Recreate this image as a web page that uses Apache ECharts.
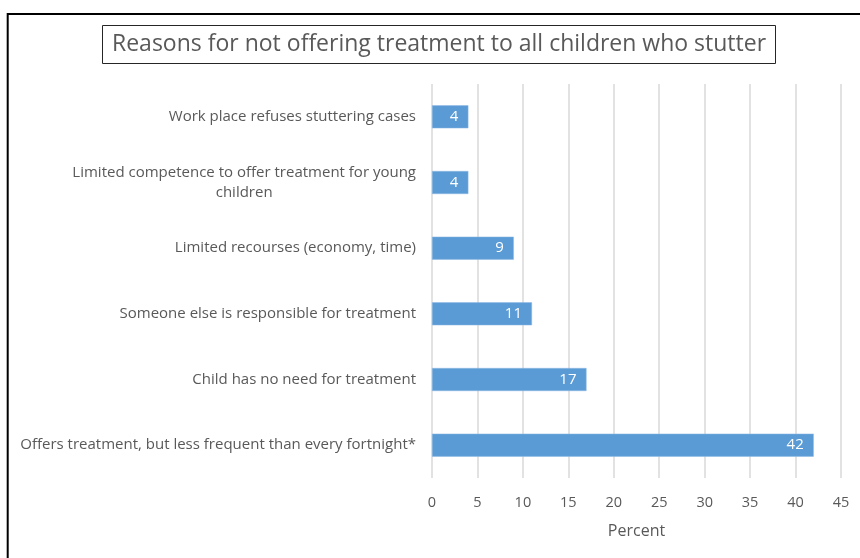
<!DOCTYPE html>
<html>
<head>
<meta charset="utf-8">
<script src="https://cdn.jsdelivr.net/npm/echarts@6/dist/echarts.min.js"></script>
<style>html,body{margin:0;padding:0;background:#fff}#c{width:860px;height:558px}</style>
</head>
<body>
<div id="c"></div>
<script>
var titleText = 'Reasons for not offering treatment to all children who stutter';
var categories = [
  'Offers treatment, but less frequent than every fortnight*',
  'Child has no need for treatment',
  'Someone else is responsible for treatment',
  'Limited recourses (economy, time)',
  'Limited competence to offer treatment for young\nchildren',
  'Work place refuses stuttering cases'
];
var values = [42, 17, 11, 9, 4, 4];
var axisName = 'Percent';
var xMin = 0, xMax = 45, xStep = 5;

var FONT = '"Open Sans", "Noto Sans", sans-serif';
var chart = echarts.init(document.getElementById('c'), null, {renderer: 'canvas'});
chart.setOption({
  animation: false,
  backgroundColor: '#ffffff',
  title: {
    text: titleText,
    left: 102,
    top: 25,
    padding: [5, 10, 6, 10],
    borderColor: '#262626',
    borderWidth: 1,
    textStyle: {fontFamily: FONT, fontSize: 23, lineHeight: 28, fontWeight: 'normal', color: '#595959'}
  },
  graphic: [{
    type: 'rect',
    shape: {x: 7.7, y: 14, width: 1000, height: 1000},
    style: {fill: 'none', stroke: '#000000', lineWidth: 2},
    silent: true
  }],
  grid: {left: 432, right: 19, top: 84, bottom: 80, containLabel: false},
  xAxis: {
    type: 'value',
    min: xMin, max: xMax, interval: xStep,
    name: axisName,
    nameLocation: 'middle',
    nameGap: 45,
    nameTextStyle: {fontFamily: FONT, fontSize: 16, color: '#595959'},
    axisLine: {show: false},
    axisTick: {show: false},
    axisLabel: {fontFamily: FONT, fontSize: 14.5, color: '#595959', margin: 17},
    splitLine: {show: true, lineStyle: {color: '#D9D9D9', width: 1.5}}
  },
  yAxis: {
    type: 'category',
    data: categories,
    axisLine: {show: false},
    axisTick: {show: false},
    axisLabel: {
      fontFamily: FONT, fontSize: 15, color: '#595959', margin: 16,
      formatter: function (v) {
        return v.split('\n').map(function (s) { return '{c|' + s + '}'; }).join('\n');
      },
      rich: {c: {align: 'center', fontFamily: FONT, fontSize: 15, color: '#595959', lineHeight: 20}}
    }
  },
  series: [{
    type: 'bar',
    data: values,
    barWidth: '35%',
    itemStyle: {color: '#5B9BD5', borderColor: '#8DB9E4', borderWidth: 0.5},
    label: {
      show: true, position: 'insideRight', distance: 10,
      color: '#ffffff', fontFamily: FONT, fontSize: 15
    }
  }]
});
</script>
</body>
</html>
